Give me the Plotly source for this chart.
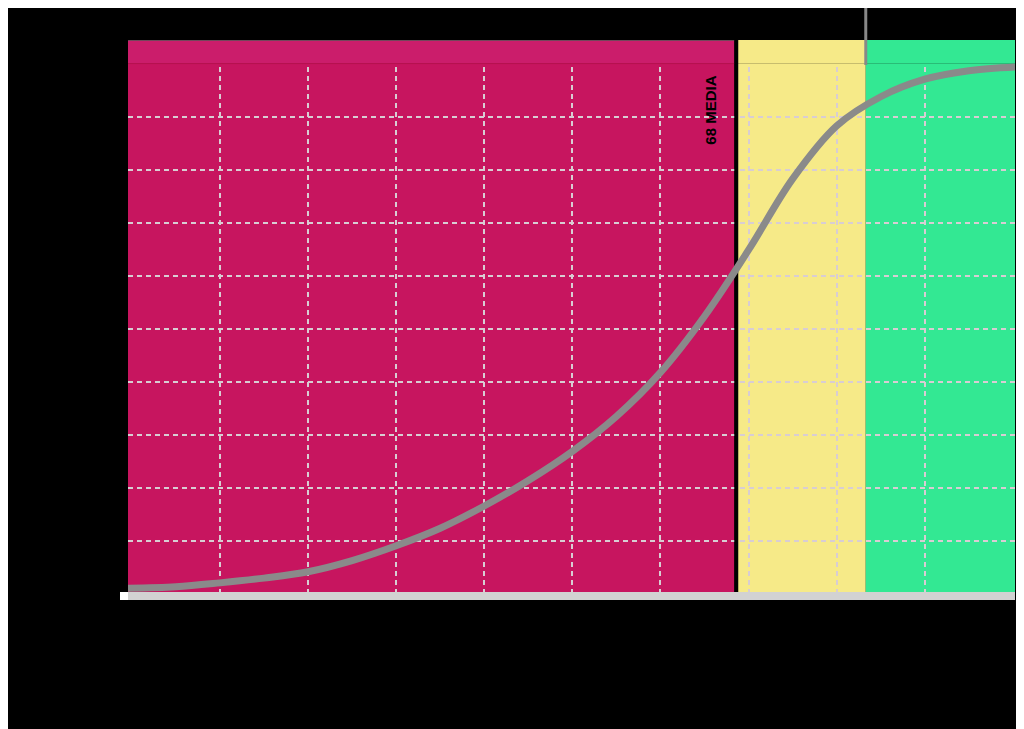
import plotly.graph_objects as go

# Curve data (x in grid units 0..10, y in percent 0..100)
curve_x = [-0.044, 0.5, 1.0, 1.5, 2.0, 2.5, 3.0, 3.5, 4.0, 4.5, 5.0, 5.5, 6.0, 6.5, 7.0, 7.5, 8.0, 8.5, 9.0, 9.5, 10.024]
curve_y = [1.1, 1.37, 2.1, 3.0, 4.2, 6.3, 9.1, 12.4, 16.6, 21.4, 26.9, 33.5, 41.8, 52.4, 64.9, 78.3, 88.3, 93.8, 97.1, 98.7, 99.4]

# Zone boundaries (x units)
X_MIN, X_MAX = -0.044, 10.024
zone_edges = [X_MIN, 6.84, 8.33, X_MAX]
zone_colors = ["#C7155F", "#F6EA88", "#33E893"]
header_colors = ["#CB1D6B", "#F6EA88", "#33E893"]
label_text = "68 MEDIA"

x_grid = [1, 2, 3, 4, 5, 6, 7, 8, 9]
y_grid = [10, 20, 30, 40, 50, 60, 70, 80, 90]
Y_TOP = 104.5

fig = go.Figure()
fig.add_trace(go.Scatter(
    x=curve_x, y=curve_y, mode="lines",
    line=dict(color="#8A8A8A", width=7, shape="spline", smoothing=1.0),
    hoverinfo="skip", showlegend=False, cliponaxis=False,
))

shapes = []
# background zones
for i, c in enumerate(zone_colors):
    x0 = zone_edges[i] + (0.025 if i == 1 else 0)
    shapes.append(dict(type="rect", xref="x", yref="y", x0=x0, x1=zone_edges[i + 1],
                       y0=0, y1=100, fillcolor=c, line=dict(width=0), layer="below"))
# header band (covers grid lines)
for i, c in enumerate(header_colors):
    x0 = zone_edges[i] + (0.025 if i == 1 else 0)
    shapes.append(dict(type="rect", xref="x", yref="y", x0=x0, x1=zone_edges[i + 1],
                       y0=100, y1=Y_TOP, fillcolor=c, line=dict(width=0), layer="between"))
shapes.append(dict(type="line", xref="x", yref="y", x0=zone_edges[0], x1=zone_edges[1],
                   y0=100.05, y1=100.05, line=dict(color="#B8124F", width=1), layer="between"))
shapes.append(dict(type="line", xref="x", yref="y", x0=zone_edges[0], x1=zone_edges[1],
                   y0=Y_TOP, y1=Y_TOP, line=dict(color="#555555", width=1.5), layer="between"))
# black divider
shapes.append(dict(type="line", xref="x", yref="y", x0=6.86, x1=6.86, y0=0, y1=Y_TOP,
                   line=dict(color="#000000", width=4), layer="between"))
# grey marker above plot
shapes.append(dict(type="line", xref="x", yref="paper", x0=zone_edges[2], x1=zone_edges[2],
                   y0=0.955, y1=1.058, line=dict(color="#888888", width=3), layer="above"))
# bottom axis bar
shapes.append(dict(type="line", xref="paper", yref="paper", x0=0, x1=1, y0=-0.0036, y1=-0.0036,
                   line=dict(color="#D2D2D2", width=8), layer="above"))
shapes.append(dict(type="line", xref="paper", yref="paper", x0=-0.009, x1=0, y0=-0.0036, y1=-0.0036,
                   line=dict(color="#FFFFFF", width=8), layer="above"))

fig.update_layout(
    width=1016, height=721,
    margin=dict(l=120, r=9, t=32, b=135),
    paper_bgcolor="#000000", plot_bgcolor="#000000",
    shapes=shapes,
    showlegend=False,
    xaxis=dict(range=[X_MIN, X_MAX], tickvals=x_grid, showticklabels=False,
               showgrid=True, gridcolor="#D8CDD3", gridwidth=2, griddash="5px,4px",
               zeroline=False, showline=False, ticks=""),
    yaxis=dict(range=[0, Y_TOP], tickvals=y_grid, showticklabels=False,
               showgrid=True, gridcolor="#D8CDD3", gridwidth=2, griddash="5px,4px",
               zeroline=False, showline=False, ticks=""),
    annotations=[dict(x=6.57, y=91.3, xref="x", yref="y", text="<b>" + label_text + "</b>",
                      textangle=-90, showarrow=False,
                      font=dict(family="Liberation Sans, Arial, sans-serif", size=15, color="#000000"))],
)

fig.write_html("out.html")
